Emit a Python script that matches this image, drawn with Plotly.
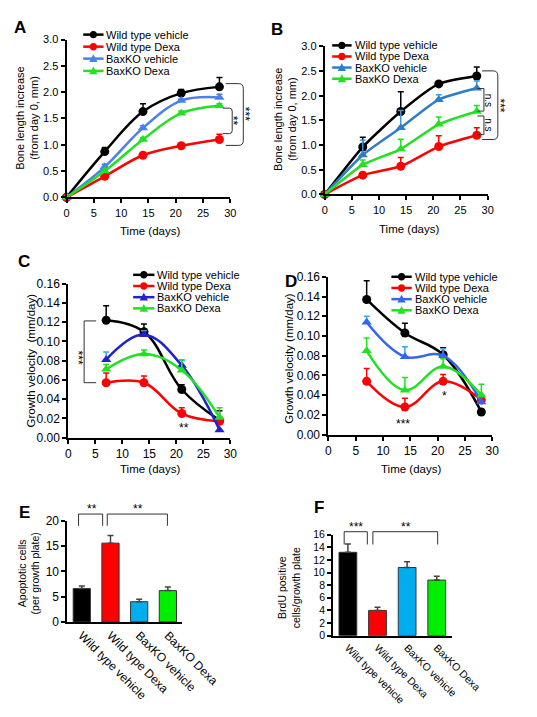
import plotly.graph_objects as go

W, H = 537, 717

days = [0, 7, 14, 21, 28]
days_v = [7, 14, 21, 28]
series_names = ["Wild type vehicle", "Wild type Dexa", "BaxKO vehicle", "BaxKO Dexa"]

# Panel A: bone length increase (mm)
a_wt_veh = [0, 0.87, 1.63, 1.98, 2.10]
a_wt_veh_err = [0, 0.08, 0.15, 0.07, 0.18]
a_wt_dexa = [0, 0.40, 0.80, 0.98, 1.10]
a_wt_dexa_err = [0, 0.03, 0.05, 0.03, 0.10]
a_ko_veh = [0, 0.58, 1.32, 1.84, 1.90]
a_ko_veh_err = [0, 0.05, 0.04, 0.03, 0.06]
a_ko_dexa = [0, 0.50, 1.10, 1.60, 1.74]
a_ko_dexa_err = [0, 0.03, 0.04, 0.04, 0.04]

# Panel B
b_wt_veh = [0, 0.96, 1.68, 2.24, 2.40]
b_wt_veh_err = [0, 0.20, 0.40, 0.03, 0.18]
b_wt_dexa = [0, 0.39, 0.57, 0.97, 1.20]
b_wt_dexa_err = [0, 0.05, 0.18, 0.22, 0.15]
b_ko_veh = [0, 0.80, 1.35, 1.92, 2.15]
b_ko_veh_err = [0, 0.30, 0.35, 0.10, 0.15]
b_ko_dexa = [0, 0.60, 0.92, 1.42, 1.68]
b_ko_dexa_err = [0, 0.10, 0.20, 0.15, 0.12]

# Panel C: growth velocity (mm/day)
c_wt_veh = [0.122, 0.110, 0.050, 0.018]
c_wt_veh_err = [0.015, 0.008, 0.005, 0.010]
c_wt_dexa = [0.057, 0.057, 0.025, 0.017]
c_wt_dexa_err = [0.010, 0.007, 0.006, 0.003]
c_ko_veh = [0.081, 0.107, 0.075, 0.008]
c_ko_veh_err = [0.008, 0.004, 0.005, 0.0]
c_ko_dexa = [0.071, 0.087, 0.070, 0.021]
c_ko_dexa_err = [0.005, 0.004, 0.011, 0.010]

# Panel D
d_wt_veh = [0.137, 0.103, 0.081, 0.023]
d_wt_veh_err = [0.019, 0.010, 0.007, 0.0]
d_wt_dexa = [0.054, 0.028, 0.054, 0.035]
d_wt_dexa_err = [0.013, 0.009, 0.007, 0.0]
d_ko_veh = [0.114, 0.079, 0.080, 0.033]
d_ko_veh_err = [0.006, 0.010, 0.007, 0.0]
d_ko_dexa = [0.085, 0.045, 0.069, 0.040]
d_ko_dexa_err = [0.013, 0.013, 0.008, 0.011]

# Panel E: apoptotic cells
e_vals = [6.6, 15.6, 4.0, 6.2]
e_err = [0.5, 1.5, 0.5, 0.7]
# Panel F: BrdU positive cells
f_vals = [13.2, 4.0, 10.8, 8.8]
f_err = [1.3, 0.5, 0.9, 0.6]

FONT = "Arial, Liberation Sans, sans-serif"


def X(px):
    return px / W


def Y(py):
    return 1 - py / H


fig = go.Figure()

panels = [
    dict(ax=1, x=days, data=[(a_wt_veh, a_wt_veh_err), (a_wt_dexa, a_wt_dexa_err), (a_ko_veh, a_ko_veh_err), (a_ko_dexa, a_ko_dexa_err)],
         colors=["#000000", "#ff0000", "#4a7ff0", "#22e022"], ecolors=["#000000", "#ff0000", "#4a7ff0", "#22e022"], smooth=1.0),
    dict(ax=2, x=days, data=[(b_wt_veh, b_wt_veh_err), (b_wt_dexa, b_wt_dexa_err), (b_ko_veh, b_ko_veh_err), (b_ko_dexa, b_ko_dexa_err)],
         colors=["#000000", "#ff0000", "#2f7cc8", "#22e022"], ecolors=["#000000", "#ff0000", "#3a9ae0", "#22e022"], smooth=0.6),
    dict(ax=3, x=days_v, data=[(c_wt_veh, c_wt_veh_err), (c_wt_dexa, c_wt_dexa_err), (c_ko_veh, c_ko_veh_err), (c_ko_dexa, c_ko_dexa_err)],
         colors=["#000000", "#ff0000", "#2222cc", "#22e022"], ecolors=["#000000", "#ff0000", "#33aaee", "#22e022"], smooth=1.1),
    dict(ax=4, x=days_v, data=[(d_wt_veh, d_wt_veh_err), (d_wt_dexa, d_wt_dexa_err), (d_ko_veh, d_ko_veh_err), (d_ko_dexa, d_ko_dexa_err)],
         colors=["#000000", "#ff0000", "#3366ee", "#22e022"], ecolors=["#000000", "#ff0000", "#33aaee", "#22e022"], smooth=1.1),
]

symbols = ["circle", "circle", "triangle-up", "triangle-up"]

for p in panels:
    ax = p["ax"]
    for i, ((vals, errs), col, ecol) in enumerate(zip(p["data"], p["colors"], p["ecolors"])):
        fig.add_trace(go.Scatter(
            x=p["x"], y=vals, mode="lines+markers", name=series_names[i],
            xaxis=f"x{ax}", yaxis=f"y{ax}", showlegend=False, cliponaxis=False,
            line=dict(color=col, width=2.5, shape="spline", smoothing=p["smooth"]),
            marker=dict(symbol=symbols[i], size=9, color=col),
            error_y=dict(type="data", array=errs, arrayminus=[0] * len(errs), symmetric=False,
                         color=ecol, thickness=1.5, width=3),
        ))

bar_colors = ["#000000", "#ff0000", "#00aeef", "#00ee00"]
for ax, vals, errs in [(5, e_vals, e_err), (6, f_vals, f_err)]:
    fig.add_trace(go.Bar(
        x=[0, 1, 2, 3], y=vals, width=0.6, xaxis=f"x{ax}", yaxis=f"y{ax}", showlegend=False,
        marker=dict(color=bar_colors, line=dict(color="#333333", width=1)),
        error_y=dict(type="data", array=errs, arrayminus=[0] * 4, symmetric=False,
                     color="#444444", thickness=1.5, width=3),
    ))

# axes
domains = {
    1: ((60, 237), (25, 186)),
    2: ((339, 515), (32, 183)),
    3: ((62, 237), (274, 431)),
    4: ((343, 520), (267, 428)),
    5: ((61, 185), (516, 619)),
    6: ((348, 476), (530, 633)),
}
base_axis = dict(showline=True, linecolor="black", linewidth=2, ticks="outside", ticklen=4,
                 tickwidth=2, tickcolor="black", showgrid=False, zeroline=False)
layout = {}
for ax, ((x0, x1), (y0, y1)) in domains.items():
    xa = dict(base_axis, domain=[X(x0), X(x1)], anchor=f"y{ax}")
    ya = dict(base_axis, domain=[Y(y1), Y(y0)], anchor=f"x{ax}")
    if ax <= 4:
        fs = 11 if ax <= 2 else 12
        xa.update(range=[0, 30], tickvals=[0, 5, 10, 15, 20, 25, 30], tickfont=dict(size=fs, family=FONT, color="black"))
        if ax <= 2:
            ya.update(range=[0, 3], tickvals=[0, 0.5, 1, 1.5, 2, 2.5, 3], tickformat=".1f")
        else:
            ya.update(range=[0, 0.16], tickvals=[0, 0.02, 0.04, 0.06, 0.08, 0.10, 0.12, 0.14, 0.16], tickformat=".2f")
        ya.update(tickfont=dict(size=fs, family=FONT, color="black"))
    else:
        fs = 12 if ax == 5 else 10.5
        xa.update(range=[-0.5, 3.5], tickvals=[0, 1, 2, 3], ticktext=series_names, tickangle=45,
                  ticks="", tickfont=dict(size=fs, family=FONT, color="black"))
        if ax == 5:
            ya.update(range=[0, 20], tickvals=[0, 5, 10, 15, 20])
        else:
            ya.update(range=[0, 16], tickvals=[0, 2, 4, 6, 8, 10, 12, 14, 16])
        ya.update(tickfont=dict(size=fs, family=FONT, color="black"))
    layout[f"xaxis{ax}"] = xa
    layout[f"yaxis{ax}"] = ya

shapes = []
annotations = []


def text(px, py, s, size=11, angle=0, bold=False, xanchor="center", yanchor="middle"):
    annotations.append(dict(x=X(px), y=Y(py), xref="paper", yref="paper", text=f"<b>{s}</b>" if bold else s,
                            showarrow=False, textangle=angle, xanchor=xanchor, yanchor=yanchor,
                            font=dict(size=size, family=FONT, color="black")))


# panel labels
for lbl, px, py in [("A", 10, 13), ("B", 287, 15), ("C", 14, 251), ("D", 303, 272), ("E", 15, 507), ("F", 333, 502)]:
    text(px, py, lbl, size=17, bold=True)

# axis titles
text(17, 105, "Bone length increase<br>(from day 0, mm)", size=11, angle=-90)
text(296, 106, "Bone length increase<br>(from day 0, mm)", size=11, angle=-90)
text(150, 220, "Time (days)", size=11.5)
text(430, 218, "Time (days)", size=11.5)
text(22, 352, "Growth velocity  (mm/day)", size=11.5, angle=-90)
text(301, 350, "Growth velocity (mm/day)", size=11.5, angle=-90)
text(150, 463, "Time (days)", size=11.5)
text(432, 463, "Time (days)", size=11.5)
text(19, 570, "Apoptotic cells<br>(per growth plate)", size=10.5, angle=-90)
text(300, 584, "BrdU positive<br>cells/growth plate", size=10.5, angle=-90)

# manual legends
legends = [
    (78, 100, [20, 32.3, 44.5, 57], panels[0]["colors"]),
    (347, 368, [31, 42.3, 53.6, 65], panels[1]["colors"]),
    (132, 155, [265, 276.4, 287.8, 299.2], panels[2]["colors"]),
    (411, 433, [267, 278.4, 289.8, 301.2], panels[3]["colors"]),
]
for lx0, lx1, rows, cols in legends:
    for i, (ry, col) in enumerate(zip(rows, cols)):
        shapes.append(dict(type="line", xref="paper", yref="paper", x0=X(lx0), x1=X(lx1), y0=Y(ry), y1=Y(ry),
                           line=dict(color=col, width=2.5)))
        cx = (lx0 + lx1) / 2
        if i < 2:
            r = 3.8
            shapes.append(dict(type="circle", xref="paper", yref="paper", x0=X(cx - r), x1=X(cx + r),
                               y0=Y(ry + r), y1=Y(ry - r), fillcolor=col, line=dict(color=col, width=0)))
        else:
            path = f"M {X(cx - 4.5)},{Y(ry + 3.5)} L {X(cx + 4.5)},{Y(ry + 3.5)} L {X(cx)},{Y(ry - 4.5)} Z"
            shapes.append(dict(type="path", xref="paper", yref="paper", path=path, fillcolor=col,
                               line=dict(color=col, width=0)))
        text(lx1 + 1, ry, series_names[i], size=11, xanchor="left")


def rbracket(x1, x2, top, bot, r=5):
    path = (f"M {X(x1)},{Y(top)} L {X(x2 - r)},{Y(top)} Q {X(x2)},{Y(top)} {X(x2)},{Y(top + r)} "
            f"L {X(x2)},{Y(bot - r)} Q {X(x2)},{Y(bot)} {X(x2 - r)},{Y(bot)} L {X(x1)},{Y(bot)}")
    shapes.append(dict(type="path", xref="paper", yref="paper", path=path, line=dict(color="#333333", width=1)))


def sqbracket_right(x1, x2, top, bot):
    path = f"M {X(x1)},{Y(top)} L {X(x2)},{Y(top)} L {X(x2)},{Y(bot)} L {X(x1)},{Y(bot)}"
    shapes.append(dict(type="path", xref="paper", yref="paper", path=path, line=dict(color="#333333", width=1)))


def sqbracket_left(x1, x2, top, bot):
    path = f"M {X(x2)},{Y(top)} L {X(x1)},{Y(top)} L {X(x1)},{Y(bot)} L {X(x2)},{Y(bot)}"
    shapes.append(dict(type="path", xref="paper", yref="paper", path=path, line=dict(color="#333333", width=1)))


def cap_bracket(x1, x2, top, bot):
    path = f"M {X(x1)},{Y(bot)} L {X(x1)},{Y(top)} L {X(x2)},{Y(top)} L {X(x2)},{Y(bot)}"
    shapes.append(dict(type="path", xref="paper", yref="paper", path=path, line=dict(color="#333333", width=1)))


# A significance
rbracket(232, 251, 70, 133)
rbracket(229, 239, 95, 121, r=3)
text(253, 101, "***", size=12, angle=90)
text(240, 108, "**", size=12, angle=90)
# B significance
rbracket(509, 526, 57, 127)
sqbracket_right(504, 511, 75, 98)
sqbracket_right(504, 511, 103, 122)
text(528, 92, "***", size=12, angle=90)
text(516, 87, "n.s", size=10, angle=90)
text(516, 112, "n.s", size=10, angle=90)
# C significance
sqbracket_left(79, 92, 312, 375)
text(72, 349, "***", size=12, angle=90)
text(187, 421, "**", size=12)
# D significance
text(424, 417, "***", size=12)
text(468, 389, "*", size=12)
# E significance
cap_bracket(73, 99, 509, 521)
cap_bracket(104, 169, 509, 521)
text(87, 504, "**", size=12)
text(137, 504, "**", size=12)
# F significance
cap_bracket(360, 385, 527, 540)
cap_bracket(391, 461, 527, 540)
text(373, 522, "***", size=12)
text(427, 522, "**", size=12)

fig.update_layout(
    width=W, height=H, margin=dict(l=0, r=0, t=0, b=0),
    paper_bgcolor="white", plot_bgcolor="white", showlegend=False,
    font=dict(family=FONT, color="black"),
    shapes=shapes, annotations=annotations, **layout,
)

fig.write_html("out.html")
